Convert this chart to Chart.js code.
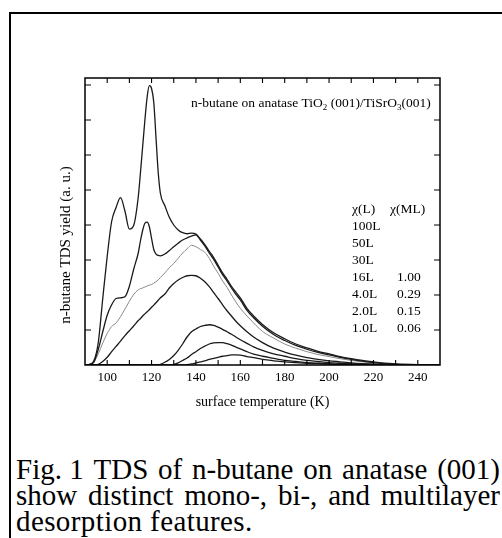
<!DOCTYPE html>
<html><head><meta charset="utf-8">
<script src="https://cdn.jsdelivr.net/npm/chart.js@4.4.1/dist/chart.umd.min.js"></script>
<style>
html,body{margin:0;padding:0;background:#fff;width:502px;height:538px;overflow:hidden;}
#c{position:absolute;left:0;top:0;}
#frameTop{position:absolute;left:9px;top:12px;width:493px;height:2px;background:#000;}
#frameLeft{position:absolute;left:9px;top:12px;width:2px;height:526px;background:#000;}
.cap{position:absolute;left:16px;width:484px;height:30px;font-family:"Liberation Serif","Times New Roman",serif;font-size:29px;line-height:30px;color:#000;white-space:nowrap;display:flex;justify-content:space-between;}
.cap3{display:block;letter-spacing:0.4px;}
</style></head>
<body>
<div id="frameTop"></div><div id="frameLeft"></div>
<canvas id="c" width="502" height="440" style="width:502px;height:440px"></canvas>
<div class="cap" style="top:454px"><span>Fig. 1</span><span>TDS</span><span>of</span><span>n-butane</span><span>on</span><span>anatase</span><span>(001)</span></div>
<div class="cap" style="top:480px"><span>show</span><span>distinct</span><span>mono-,</span><span>bi-,</span><span>and</span><span>multilayer</span></div>
<div class="cap cap3" style="top:506px">desorption features.</div>
<script>
// ---- data ----
const temps = [90,92,94,96,98, 100,102,104,106,108, 110,112,114,115,116, 117,118,119,120,121, 122,123,124,126,128, 130,132,134,136,138, 140,142,144,146,148, 150,152,154,156,158, 160,163,166,170,175, 180,185,190,195,200, 205,210,215,220,225, 230,240,250];
const y100L = [0,0.02,0.12,0.65,1.9, 3.1,4.1,4.5,4.78,4.4, 3.88,4.0,4.8,5.5,6.25, 7.0,7.65,7.98,7.9,7.5, 6.5,5.5,4.9,4.55,4.22, 4.0,3.86,3.78,3.75,3.77, 3.74,3.6,3.44,3.25,3.07, 2.85,2.63,2.45,2.25,2.08, 1.92,1.62,1.4,1.16,0.92, 0.75,0.6,0.49,0.39,0.32, 0.24,0.18,0.13,0.09,0.05, 0.03,0.01,0];
const y50L = [0,0.01,0.08,0.45,0.95, 1.42,1.72,1.9,1.92,1.95, 2.25,2.75,3.2,3.55,3.85, 4.05,4.08,3.95,3.62,3.3, 3.17,3.13,3.12,3.17,3.27, 3.38,3.48,3.57,3.63,3.68, 3.72,3.57,3.4,3.2,3.02, 2.8,2.58,2.4,2.2,2.02, 1.86,1.56,1.35,1.11,0.87, 0.7,0.56,0.45,0.36,0.29, 0.22,0.16,0.11,0.07,0.04, 0.02,0.01,0];
const y30L = [0,0.01,0.08,0.32,0.63, 0.9,1.1,1.2,1.38,1.6, 1.82,2.02,2.15,2.18,2.2, 2.23,2.26,2.28,2.3,2.34, 2.38,2.43,2.5,2.63,2.78, 2.9,3.05,3.2,3.32,3.42, 3.38,3.3,3.22,3.05,2.82, 2.62,2.4,2.22,2.0,1.8, 1.62,1.4,1.2,0.96,0.77, 0.6,0.48,0.38,0.3,0.24, 0.18,0.13,0.09,0.06,0.03, 0.02,0.01,0];
const y16L = [0,0,0,0.02,0.1, 0.22,0.38,0.53,0.68,0.84, 0.98,1.12,1.27,1.33,1.4, 1.46,1.52,1.58,1.65,1.71, 1.78,1.85,1.92,2.03,2.2, 2.33,2.43,2.5,2.55,2.56, 2.55,2.48,2.38,2.24,2.07, 1.9,1.72,1.55,1.4,1.25, 1.12,0.95,0.8,0.64,0.48, 0.37,0.28,0.21,0.16,0.12, 0.09,0.06,0.04,0.03,0.02, 0.01,0,0];
const y4L = [0,0,0,0,0, 0,0,0,0,0, 0,0,0,0,0, 0,0,0,0,0, 0.01,0.01,0.02,0.08,0.16, 0.27,0.42,0.6,0.8,0.95, 1.03,1.1,1.13,1.15,1.13, 1.08,1.02,0.95,0.88,0.8, 0.72,0.62,0.52,0.42,0.32, 0.25,0.18,0.13,0.1,0.07, 0.05,0.03,0.02,0.01,0, 0,0,0];
const y2L = [0,0,0,0,0, 0,0,0,0,0, 0,0,0,0,0, 0,0,0,0,0, 0,0,0,0,0, 0.02,0.06,0.13,0.2,0.3, 0.38,0.47,0.54,0.6,0.63, 0.64,0.64,0.61,0.57,0.51, 0.46,0.38,0.31,0.25,0.19, 0.13,0.1,0.07,0.05,0.03, 0.02,0.02,0.01,0.01,0, 0,0,0];
const y1L = [0,0,0,0,0, 0,0,0,0,0, 0,0,0,0,0, 0,0,0,0,0, 0,0,0,0,0, 0,0,0,0.01,0.03, 0.06,0.09,0.12,0.16,0.19, 0.22,0.25,0.27,0.29,0.29, 0.28,0.24,0.21,0.16,0.12, 0.09,0.07,0.05,0.04,0.03, 0.02,0.02,0.01,0.01,0, 0,0,0];
const exposureLabels = ['100L','50L','30L','16L','4.0L','2.0L','1.0L'];
const coverageLabels = ['','','','1.00','0.29','0.15','0.06'];
const xTickLabels = [100,120,140,160,180,200,220,240];
const xMinorTicks = [100,110,120,130,140,150,160,170,180,190,200,210,220,230,240];
const yTicks = [1,2,3,4,5,6,7,8];
const seriesValues = [y100L,y50L,y30L,y16L,y4L,y2L,y1L];

const SERIF = "'Liberation Serif','Times New Roman',serif";
const datasets = seriesValues.map((vals,i)=>({
  label: exposureLabels[i],
  data: temps.map((t,j)=>({x:t,y:vals[j]})),
  borderColor: i===2 ? '#8a8a8a' : '#1a1a1a',
  borderWidth: i===2 ? 1 : 1.3,
  pointRadius: 0,
  fill: false,
  cubicInterpolationMode: 'monotone'
}));

const framePlugin = {
  id:'frame',
  afterDatasetsDraw(chart){
    const {ctx, chartArea:a, scales:{x,y}} = chart;
    ctx.save();
    ctx.strokeStyle='#000';
    ctx.lineWidth=1.5;
    ctx.strokeRect(a.left, a.top, a.right-a.left, a.bottom-a.top);
    ctx.lineWidth=1.1;
    ctx.beginPath();
    xMinorTicks.forEach(v=>{
      const px=x.getPixelForValue(v);
      ctx.moveTo(px,a.bottom); ctx.lineTo(px,a.bottom-5);
      ctx.moveTo(px,a.top); ctx.lineTo(px,a.top+5);
    });
    yTicks.forEach(v=>{
      const py=y.getPixelForValue(v);
      ctx.moveTo(a.left,py); ctx.lineTo(a.left+6,py);
      ctx.moveTo(a.right,py); ctx.lineTo(a.right-6,py);
    });
    ctx.stroke();

    ctx.fillStyle='#000';
    // y axis title
    ctx.save();
    ctx.translate(a.left-19, a.top+167);
    ctx.rotate(-Math.PI/2);
    ctx.font='15px '+SERIF;
    ctx.textAlign='center'; ctx.textBaseline='middle';
    ctx.fillText('n-butane TDS yield (a. u.)',0,0);
    ctx.restore();

    // annotation with subscripts
    const segs=[['n-butane on anatase TiO',0],['2',1],[' (001)/TiSrO',0],['3',1],['(001)',0]];
    let tx=a.left+106; const ty=a.top+29;
    ctx.textAlign='left'; ctx.textBaseline='alphabetic';
    segs.forEach(([s,sub])=>{
      ctx.font=(sub?'9px ':'13.5px ')+SERIF;
      ctx.fillText(s,tx,ty+(sub?3:0));
      tx+=ctx.measureText(s).width;
    });

    // exposure / coverage table
    ctx.font='13.5px '+SERIF;
    ctx.textBaseline='middle';
    const c1=a.left+267, c2=a.left+306, c2h=a.left+305;
    ctx.fillText('\u03C7(L)',c1,a.top+131.5);
    ctx.fillText('\u03C7(ML)',c2h,a.top+131.5);
    exposureLabels.forEach((lab,i)=>{
      const yy=a.top+148.5+17*i;
      ctx.fillText(lab,c1,yy);
      if(coverageLabels[i]) ctx.fillText(coverageLabels[i],c2+6,yy);
    });
    ctx.restore();
  }
};

new Chart(document.getElementById('c'),{
  type:'line',
  data:{datasets},
  options:{
    responsive:false, animation:false, devicePixelRatio:1,
    layout:{padding:{left:85,right:62,top:78,bottom:0}},
    plugins:{legend:{display:false},tooltip:{enabled:false}},
    scales:{
      x:{type:'linear',min:90,max:250,
        grid:{display:false,drawTicks:false},border:{display:false},
        afterFit(s){s.height=75;},
        ticks:{stepSize:10,autoSkip:false,maxRotation:0,padding:5,color:'#000',
          font:{family:SERIF,size:13},
          callback:(v)=> xTickLabels.includes(v)? String(v):''},
        title:{display:true,text:'surface temperature (K)',color:'#000',
          font:{family:SERIF,size:14},padding:{top:0,bottom:29}}
      },
      y:{type:'linear',min:0,max:8.2,
        grid:{display:false,drawTicks:false},border:{display:false},
        ticks:{display:false,stepSize:1},
        afterFit(s){s.width=0;}
      }
    }
  },
  plugins:[framePlugin]
});
</script>
</body></html>
